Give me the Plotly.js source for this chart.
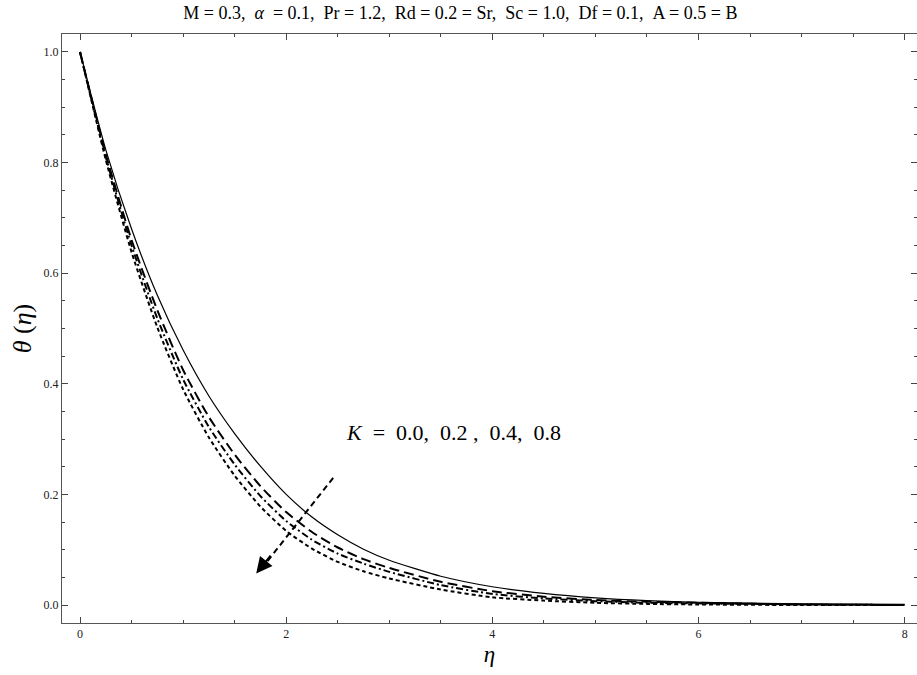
<!DOCTYPE html>
<html>
<head>
<meta charset="utf-8">
<script src="https://cdn.plot.ly/plotly-3.0.1.min.js"></script>
<style>html,body{margin:0;padding:0;background:#fff;}#chart{width:917px;height:675px;}</style>
</head>
<body>
<div id="chart"></div>
<script>
// eta grid
var eta = [0, 0.25, 0.5, 0.75, 1, 1.25, 1.5, 1.75, 2, 2.25, 2.5, 2.75, 3, 3.5, 4, 4.5, 5, 5.5, 6, 7, 8];
// theta(eta) for K = 0.0, 0.2, 0.4, 0.8
var thetaK00 = [1.0, 0.823, 0.680, 0.560, 0.461, 0.378, 0.310, 0.251, 0.200, 0.159, 0.127, 0.101, 0.081, 0.052, 0.033, 0.021, 0.013, 0.008, 0.005, 0.002, 0.001];
var thetaK02 = [1.0, 0.815, 0.660, 0.533, 0.425, 0.340, 0.272, 0.215, 0.168, 0.132, 0.104, 0.083, 0.067, 0.042, 0.025, 0.015, 0.009, 0.006, 0.004, 0.001, 0.0];
var thetaK04 = [1.0, 0.810, 0.650, 0.518, 0.408, 0.322, 0.254, 0.197, 0.152, 0.118, 0.093, 0.075, 0.060, 0.036, 0.020, 0.012, 0.007, 0.004, 0.003, 0.001, 0.0];
var thetaK08 = [1.0, 0.805, 0.638, 0.502, 0.390, 0.303, 0.234, 0.178, 0.134, 0.102, 0.078, 0.061, 0.048, 0.028, 0.014, 0.008, 0.004, 0.002, 0.001, 0.0, 0.0];
var kLabels = ['K = 0.0', 'K = 0.2', 'K = 0.4', 'K = 0.8'];
var xTicks = [0, 2, 4, 6, 8];
var yTicks = [0.0, 0.2, 0.4, 0.6, 0.8, 1.0];

var series = [thetaK00, thetaK02, thetaK04, thetaK08];
var styles = [
  {dash: 'solid', width: 1.2},
  {dash: '10px,5px', width: 2},
  {dash: '7px,3px,2px,3px', width: 2},
  {dash: '4px,3px', width: 2}
];
var traces = series.map(function (s, i) {
  return {
    x: eta, y: s, type: 'scatter', mode: 'lines', name: kLabels[i],
    line: {color: '#000', width: styles[i].width, dash: styles[i].dash, shape: 'spline', smoothing: 0.6},
    hoverinfo: 'skip'
  };
});

var S = '\u00A0';
var serif = 'Liberation Serif';
var axisFont = {family: serif, size: 12, color: '#222'};
var layout = {
  width: 917, height: 675,
  margin: {l: 62, r: 0, t: 34, b: 52},
  paper_bgcolor: '#fff', plot_bgcolor: '#fff',
  showlegend: false,
  title: {
    text: 'M = 0.3,' + S + S + '<i>α</i>' + S + S + '= 0.1,' + S + S + 'Pr = 1.2,' + S + S + 'Rd = 0.2 = Sr,' + S + S +
          'Sc = 1.0,' + S + S + 'Df = 0.1,' + S + S + 'A = 0.5 = B',
    font: {family: serif, size: 18, color: '#000'},
    x: 0.502, xref: 'container', xanchor: 'center',
    y: 0.981, yref: 'container', yanchor: 'middle'
  },
  xaxis: {
    range: [-0.175, 8.12], tickvals: xTicks, ticktext: xTicks.map(String),
    ticks: 'inside', ticklen: 6, tickwidth: 1, tickcolor: '#444',
    minor: {dtick: 0.5, ticks: 'inside', ticklen: 3, tickcolor: '#444'},
    showline: true, linecolor: '#555', linewidth: 1, mirror: 'ticks',
    showgrid: false, zeroline: false, tickfont: axisFont,
    title: {text: '<i>η</i>', font: {family: serif, size: 23, color: '#000'}, standoff: 5}
  },
  yaxis: {
    range: [-0.0325, 1.0325], tickvals: yTicks, ticktext: yTicks.map(function (v) { return v.toFixed(1); }),
    ticks: 'inside', ticklen: 6, tickwidth: 1, tickcolor: '#444',
    minor: {dtick: 0.05, ticks: 'inside', ticklen: 3, tickcolor: '#444'},
    showline: true, linecolor: '#555', linewidth: 1, mirror: 'ticks',
    showgrid: false, zeroline: false, tickfont: axisFont,
    title: {text: '<i>θ</i>' + S + '(<i>η</i>)', font: {family: serif, size: 26, color: '#000'}, standoff: 4}
  },
  shapes: [
    {type: 'line', xref: 'x', yref: 'y', x0: 2.456, y0: 0.230, x1: 1.80, y1: 0.075,
     line: {color: '#000', width: 2, dash: '6px,4px'}}
  ],
  annotations: [
    {xref: 'x', yref: 'y', x: 1.709, y: 0.057, ax: 1.86, ay: 0.092, axref: 'x', ayref: 'y',
     showarrow: true, arrowhead: 2, arrowsize: 1.6, arrowwidth: 2, arrowcolor: '#000', text: ''},
    {xref: 'x', yref: 'y', x: 2.56, y: 0.312, xanchor: 'left', yanchor: 'middle', showarrow: false,
     text: '<i>K</i>' + S + S + '=' + S + S + '0.0,' + S + S + '0.2' + S + ',' + S + S + '0.4,' + S + S + '0.8',
     font: {family: serif, size: 22, color: '#000'}}
  ]
};

Plotly.newPlot('chart', traces, layout, {displayModeBar: false, staticPlot: true});
</script>
</body>
</html>
